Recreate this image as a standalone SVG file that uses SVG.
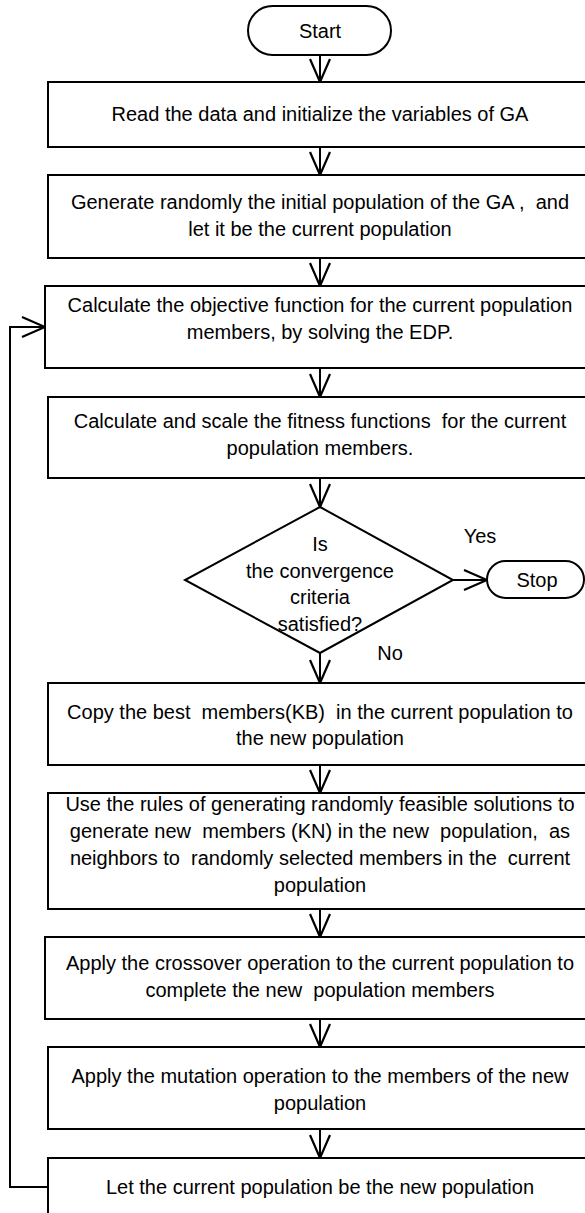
<svg xmlns="http://www.w3.org/2000/svg" width="585" height="1213" viewBox="0 0 585 1213">
<style>
  .box { fill: #fff; stroke: #000; stroke-width: 2; }
  .ln { fill: none; stroke: #000; stroke-width: 2; }
  text { font-family: "Liberation Sans", Arial, sans-serif; font-size: 20px; fill: #000; text-anchor: middle; white-space: pre; }
</style>
<defs>
  <marker id="v" markerUnits="userSpaceOnUse" viewBox="0 0 26 22" refX="24" refY="11" markerWidth="26" markerHeight="22" orient="auto">
    <path d="M1,1 L24,11 L1,21" fill="none" stroke="#000" stroke-width="2.2"/>
  </marker>
</defs>
<rect width="585" height="1213" fill="#fff"/>
<g id="connectors">
  <line class="ln" x1="320" y1="55" x2="320" y2="82" marker-end="url(#v)"/>
  <line class="ln" x1="320" y1="147" x2="320" y2="175" marker-end="url(#v)"/>
  <line class="ln" x1="320" y1="258" x2="320" y2="286" marker-end="url(#v)"/>
  <line class="ln" x1="320" y1="368" x2="320" y2="397" marker-end="url(#v)"/>
  <line class="ln" x1="320" y1="478" x2="320" y2="507" marker-end="url(#v)"/>
  <line class="ln" x1="453" y1="580" x2="487" y2="580" marker-end="url(#v)"/>
  <line class="ln" x1="320" y1="653" x2="320" y2="683" marker-end="url(#v)"/>
  <line class="ln" x1="320" y1="765" x2="320" y2="793" marker-end="url(#v)"/>
  <line class="ln" x1="320" y1="909" x2="320" y2="937" marker-end="url(#v)"/>
  <line class="ln" x1="320" y1="1019" x2="320" y2="1047" marker-end="url(#v)"/>
  <line class="ln" x1="320" y1="1129" x2="320" y2="1158" marker-end="url(#v)"/>
  <polyline class="ln" points="48,1187 10,1187 10,327 45,327" marker-end="url(#v)"/>
  <text x="480" y="543">Yes</text>
  <text x="390" y="660">No</text>
</g>
<g id="start">
  <rect class="box" x="248" y="6" width="143" height="49" rx="24.5"/>
  <text x="320" y="38">Start</text>
</g>
<g id="read">
  <rect class="box" x="48" y="82" width="544" height="65"/>
  <text x="320" y="121">Read the data and initialize the variables of GA</text>
</g>
<g id="generate">
  <rect class="box" x="48" y="175" width="544" height="83"/>
  <text x="320" y="209">Generate randomly the initial population of the GA ,  and</text>
  <text x="320" y="236">let it be the current population</text>
</g>
<g id="objective">
  <rect class="box" x="45" y="286" width="550" height="82"/>
  <text x="320" y="312">Calculate the objective function for the current population</text>
  <text x="320" y="339">members, by solving the EDP.</text>
</g>
<g id="fitness">
  <rect class="box" x="48" y="397" width="544" height="81"/>
  <text x="320" y="428">Calculate and scale the fitness functions  for the current</text>
  <text x="320" y="455">population members.</text>
</g>
<g id="decision">
  <polygon class="box" points="320,507 453,580 320,653 185,580"/>
  <text x="320" y="551">Is</text>
  <text x="320" y="578">the convergence</text>
  <text x="320" y="604">criteria</text>
  <text x="320" y="631">satisfied?</text>
</g>
<g id="stop">
  <rect class="box" x="487" y="561" width="97" height="37" rx="18.5"/>
  <text x="537" y="587">Stop</text>
</g>
<g id="copy">
  <rect class="box" x="48" y="683" width="544" height="82"/>
  <text x="320" y="719">Copy the best  members(KB)  in the current population to</text>
  <text x="320" y="745">the new population</text>
</g>
<g id="rules">
  <rect class="box" x="48" y="793" width="544" height="116"/>
  <text x="320" y="811">Use the rules of generating randomly feasible solutions to</text>
  <text x="320" y="838">generate new  members (KN) in the new  population,  as</text>
  <text x="320" y="865">neighbors to  randomly selected members in the  current</text>
  <text x="320" y="892">population</text>
</g>
<g id="crossover">
  <rect class="box" x="45" y="937" width="550" height="82"/>
  <text x="320" y="970">Apply the crossover operation to the current population to</text>
  <text x="320" y="997">complete the new  population members</text>
</g>
<g id="mutation">
  <rect class="box" x="48" y="1047" width="544" height="82"/>
  <text x="320" y="1083">Apply the mutation operation to the members of the new</text>
  <text x="320" y="1110">population</text>
</g>
<g id="replace">
  <rect class="box" x="48" y="1158" width="544" height="80"/>
  <text x="320" y="1194">Let the current population be the new population</text>
</g>
</svg>
